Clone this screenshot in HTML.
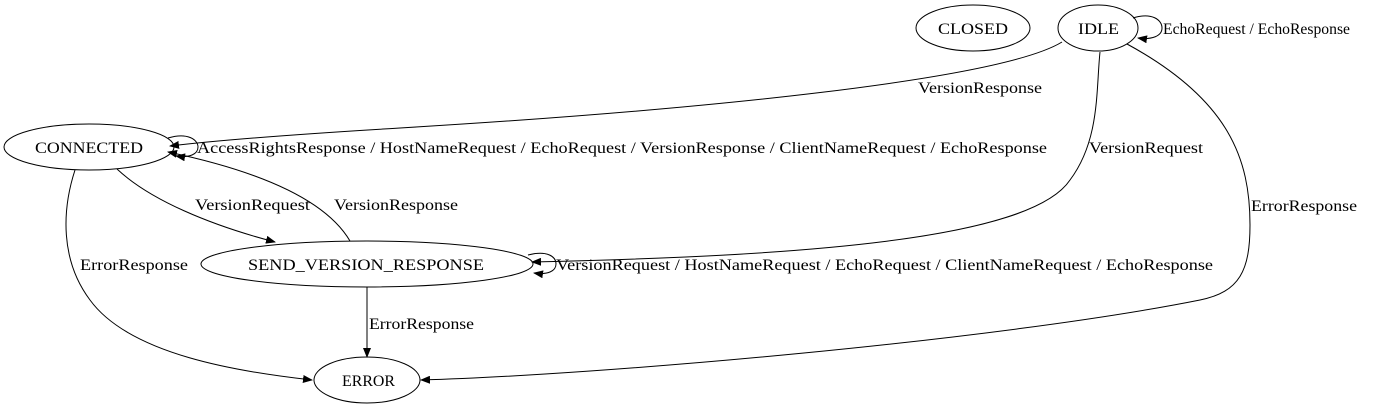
<!DOCTYPE html>
<html><head><meta charset="utf-8"><style>body{margin:0;background:#fff}svg{display:block}</style></head><body>
<svg width="1385" height="411" viewBox="0 0 1385 411" xmlns="http://www.w3.org/2000/svg" font-family="Liberation Serif, serif" font-size="16">
<defs><marker id="a" markerWidth="10" markerHeight="8" refX="9" refY="4" orient="auto" markerUnits="userSpaceOnUse"><path d="M0,0L10,4L0,8z" fill="#000"/></marker></defs>
<g fill="none" stroke="#000" stroke-width="1">
<ellipse cx="973" cy="28" rx="57" ry="23"/>
<ellipse cx="1098" cy="28" rx="40" ry="23"/>
<ellipse cx="89" cy="147" rx="85" ry="23"/>
<ellipse cx="367" cy="264" rx="166" ry="23"/>
<ellipse cx="367" cy="380" rx="53" ry="23"/>
<path d="M1133,18 C1152,12 1162,20 1162,28 C1162,36 1152,40 1138,38" marker-end="url(#a)"/>
<path d="M1062,42 C1000,80 700,110 400,128 C300,134 220,140 170,146" marker-end="url(#a)"/>
<path d="M168,138 C188,132 198,140 198,147 C198,154 190,158 176,156" marker-end="url(#a)"/>
<path d="M117,169 C150,200 210,225 275,242" marker-end="url(#a)"/>
<path d="M350,241 C320,190 230,165 168,152" marker-end="url(#a)"/>
<path d="M1100,52 C1096,90 1100,140 1070,180 C1030,240 800,256 532,262" marker-end="url(#a)"/>
<path d="M528,255 C548,250 556,257 556,264 C556,271 548,275 534,273" marker-end="url(#a)"/>
<path d="M75,170 C62,210 60,260 90,300 C130,355 240,372 312,380" marker-end="url(#a)"/>
<path d="M367,287 L367,357" marker-end="url(#a)"/>
<path d="M1127,44 C1230,100 1250,160 1250,225 C1250,270 1240,292 1200,300 C1000,340 600,375 421,380" marker-end="url(#a)"/>
</g>
<g fill="#000" lengthAdjust="spacingAndGlyphs">
<text x="938" y="34" textLength="70" lengthAdjust="spacingAndGlyphs">CLOSED</text>
<text x="1078" y="34" textLength="41" lengthAdjust="spacingAndGlyphs">IDLE</text>
<text x="35" y="153" textLength="108" lengthAdjust="spacingAndGlyphs">CONNECTED</text>
<text x="248" y="270" textLength="236" lengthAdjust="spacingAndGlyphs">SEND_VERSION_RESPONSE</text>
<text x="342" y="386" textLength="53" lengthAdjust="spacingAndGlyphs">ERROR</text>
<text x="1163" y="34" textLength="187" lengthAdjust="spacingAndGlyphs">EchoRequest / EchoResponse</text>
<text x="918" y="93" textLength="124" lengthAdjust="spacingAndGlyphs">VersionResponse</text>
<text x="197" y="153" textLength="850" lengthAdjust="spacingAndGlyphs">AccessRightsResponse / HostNameRequest / EchoRequest / VersionResponse / ClientNameRequest / EchoResponse</text>
<text x="195" y="210" textLength="115" lengthAdjust="spacingAndGlyphs">VersionRequest</text>
<text x="334" y="210" textLength="124" lengthAdjust="spacingAndGlyphs">VersionResponse</text>
<text x="1089" y="153" textLength="114" lengthAdjust="spacingAndGlyphs">VersionRequest</text>
<text x="556" y="270" textLength="657" lengthAdjust="spacingAndGlyphs">VersionRequest / HostNameRequest / EchoRequest / ClientNameRequest / EchoResponse</text>
<text x="80" y="270" textLength="108" lengthAdjust="spacingAndGlyphs">ErrorResponse</text>
<text x="369" y="329" textLength="105" lengthAdjust="spacingAndGlyphs">ErrorResponse</text>
<text x="1251" y="211" textLength="106" lengthAdjust="spacingAndGlyphs">ErrorResponse</text>
</g>
</svg>
</body></html>
